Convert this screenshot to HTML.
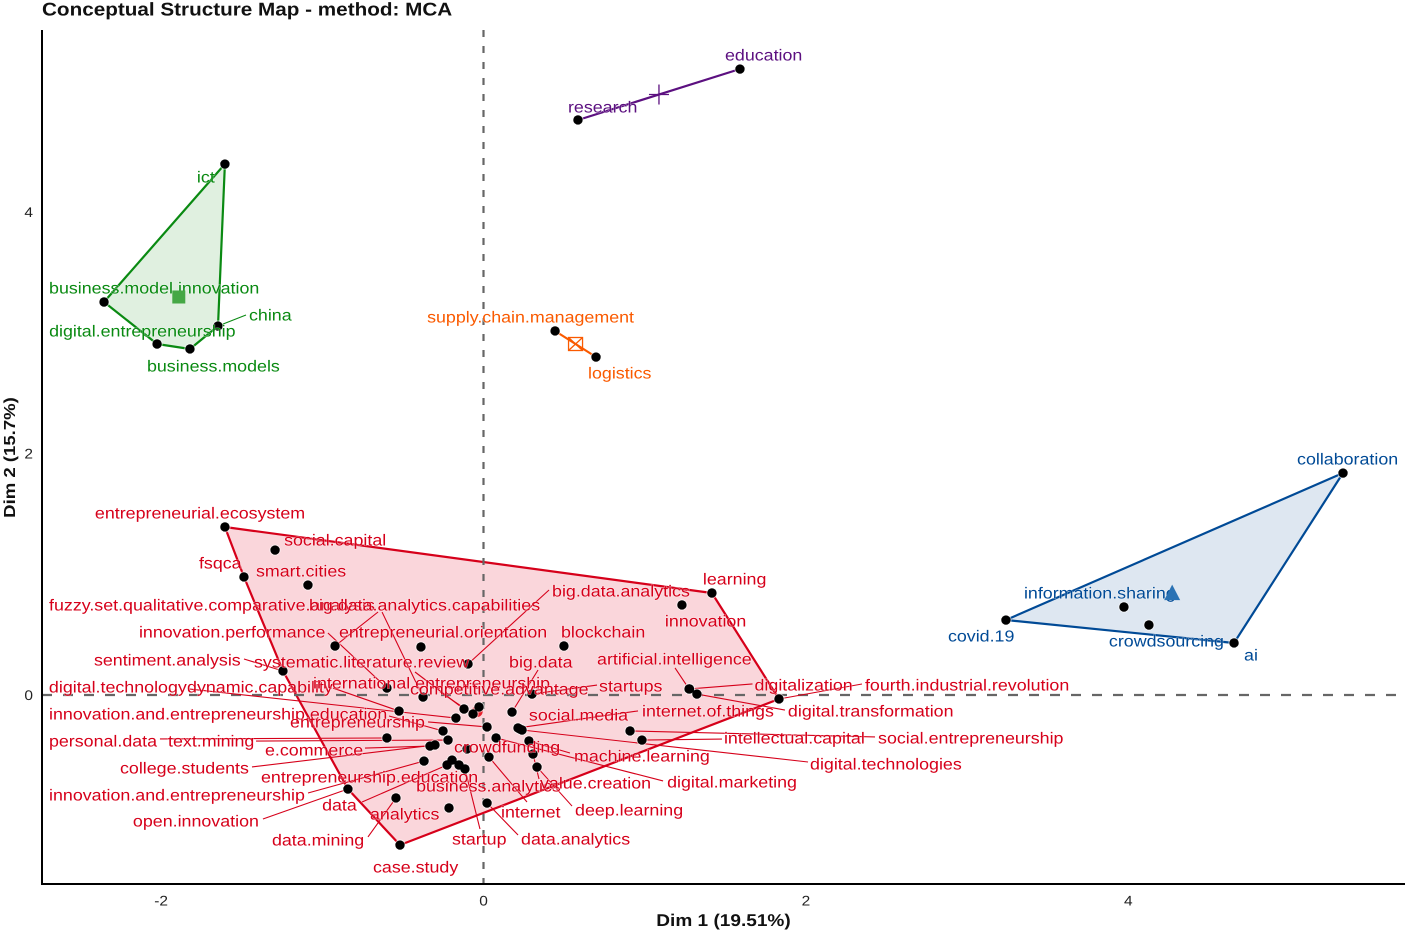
<!DOCTYPE html>
<html lang="en">
<head>
<meta charset="utf-8">
<title>Conceptual Structure Map - method: MCA</title>
<style>
html,body{margin:0;padding:0;background:#fff;}
svg{display:block;}
text{font-family:"Liberation Sans",Arial,sans-serif;text-rendering:geometricPrecision;}
</style>
</head>
<body>
<svg id="chart" xmlns="http://www.w3.org/2000/svg" width="1406" height="931" viewBox="0 0 1406 931">
  <rect x="0" y="0" width="1406" height="931" fill="#fff"/>
</svg>
<script>
// ---- chart data ----
const terms = ["entrepreneurial.ecosystem","social.capital","fsqca","smart.cities","fuzzy.set.qualitative.comparative.analysis","big.data.analytics.capabilities","innovation.performance","entrepreneurial.orientation","blockchain","big.data.analytics","learning","innovation","artificial.intelligence","big.data","sentiment.analysis","systematic.literature.review","digital.technology","dynamic.capability","international.entrepreneurship","competitive.advantage","startups","innovation.and.entrepreneurship.education","entrepreneurship","personal.data","text.mining","e.commerce","college.students","entrepreneurship.education","innovation.and.entrepreneurship","open.innovation","data","analytics","data.mining","case.study","business.analytics","startup","data.analytics","internet","value.creation","deep.learning","digital.marketing","machine.learning","digital.technologies","social.media","internet.of.things","intellectual.capital","social.entrepreneurship","digital.transformation","digitalization","fourth.industrial.revolution","crowdfunding","ict","business.model.innovation","digital.entrepreneurship","business.models","china","collaboration","covid.19","ai","information.sharing","crowdsourcing","education","research","supply.chain.management","logistics"];
const dim1 = [-1.604,-1.293,-1.486,-1.089,-0.921,-0.375,-0.599,-0.388,0.499,-0.096,1.417,1.231,1.275,0.177,-1.244,-0.121,-0.171,-0.524,-0.065,-0.028,0.301,-0.251,0.022,-0.599,-0.220,-0.332,-0.301,-0.152,-0.369,-0.841,-0.226,-0.214,-0.543,-0.518,-0.195,-0.115,0.022,0.034,0.307,0.332,0.078,0.282,0.239,0.226,0.214,0.983,0.909,1.324,1.278,1.833,-0.102,-1.604,-2.354,-2.025,-1.821,-1.647,5.332,3.241,4.656,3.973,4.128,1.591,0.586,0.444,0.698];
const dim2 = [1.392,1.201,0.978,0.911,0.406,-0.017,0.058,0.398,0.406,0.257,0.845,0.746,0.050,-0.141,0.199,-0.116,-0.191,-0.133,-0.157,-0.099,0.008,-0.298,-0.265,-0.356,-0.373,-0.423,-0.414,-0.580,-0.547,-0.779,-0.580,-0.936,-0.853,-1.243,-0.539,-0.613,-0.895,-0.514,-0.489,-0.597,-0.356,-0.381,-0.290,-0.282,-0.273,-0.373,-0.298,0.008,0.050,-0.033,-0.447,4.399,3.256,2.908,2.867,3.057,1.839,0.621,0.431,0.729,0.580,5.186,4.764,3.016,2.800];
const clusterOf = [0,0,0,0,0,0,0,0,0,0,0,0,0,0,0,0,0,0,0,0,0,0,0,0,0,0,0,0,0,0,0,0,0,0,0,0,0,0,0,0,0,0,0,0,0,0,0,0,0,0,0,1,1,1,1,1,2,2,2,2,2,3,3,4,4];
const clusterIds = ["red","green","blue","purple","orange"];
const xTickValues = [-2,0,2,4];
const yTickValues = [0,2,4];
const xAxisTitle = "Dim 1 (19.51%)";
const yAxisTitle = "Dim 2 (15.7%)";
const chartTitle = "Conceptual Structure Map - method: MCA";

// ---- presentation ----
const clusterStroke = {red:"#d6001a",green:"#0a8a12",blue:"#004a96",purple:"#5c1080",orange:"#fa5a00"};
const clusterFill = {red:"#fad6db",green:"#e0f0e0",blue:"#dee7f1",purple:"none",orange:"none"};
const clusterText = {red:"#d6001a",green:"#0a8a12",blue:"#004a96",purple:"#5c1080",orange:"#fa5a00"};
// repelled label placement, relative to each point: text-left, text-centre, then optional leader end
const labelPlacement = {
 "entrepreneurial.ecosystem":[-130,-14],"social.capital":[9,-10],"fsqca":[-45,-14],"smart.cities":[-52,-14],
 "fuzzy.set.qualitative.comparative.analysis":[-286,-41,43,-34],"big.data.analytics.capabilities":[-114,-92,-41,-85],
 "innovation.performance":[-248,-56,-59,-55],"entrepreneurial.orientation":[-82,-15],"blockchain":[-3,-14],
 "big.data.analytics":[84,-73,81,-74],"learning":[-9,-14],"innovation":[-17,16],"artificial.intelligence":[-92,-30,-14,-21],
 "big.data":[-3,-50,26,-42],"sentiment.analysis":[-189,-11,-39,-12],"systematic.literature.review":[-210,-47,-49,-37],
 "digital.technology":[-407,-31,-266,-29],"dynamic.capability":[-212,-24,-66,-23],"international.entrepreneurship":[-160,-31,-33,-22],
 "competitive.advantage":[-69,-18],"startups":[67,-8,65,-9],"innovation.and.entrepreneurship.education":[-394,-17,-54,-15],
 "entrepreneurship":[-197,-5,-59,-5],"personal.data":[-338,3,-227,1],"text.mining":[-280,1,-192,1],"e.commerce":[-165,4,-65,2],
 "college.students":[-315,23,-183,22],"entrepreneurship.education":[-198,12],"innovation.and.entrepreneurship":[-375,34,-116,32],
 "open.innovation":[-215,32,-85,30],"data":[-125,40,-85,37],"analytics":[-79,6],"data.mining":[-124,42,-28,39],"case.study":[-27,22],
 "business.analytics":[-36,26],"startup":[-13,70,15,60],"data.analytics":[34,36,31,32],"internet":[12,55,38,45],
 "value.creation":[7,29,6,25],"deep.learning":[38,43,35,39],"digital.marketing":[171,44,167,43],"machine.learning":[45,15,41,12],
 "digital.technologies":[288,34,286,32],"social.media":[9,-14],"internet.of.things":[124,-17,120,-17],
 "intellectual.capital":[82,-2,80,-1],"social.entrepreneurship":[248,7,245,6],"digital.transformation":[91,17,88,16],
 "digitalization":[65,-4,63,-5],"fourth.industrial.revolution":[86,-14,83,-15],"crowdfunding":[-13,-2],
 "ict":[-28,13],"business.model.innovation":[-55,-14],"digital.entrepreneurship":[-108,-13],"business.models":[-43,17],"china":[31,-11,28,-11],
 "collaboration":[-46,-14],"covid.19":[-58,16],"ai":[10,12],"information.sharing":[-100,-14],"crowdsourcing":[-40,16],
 "education":[-15,-14],"research":[-10,-13],"supply.chain.management":[-128,-14],"logistics":[-8,16]
};

// ---- axis functions ----
const xScale = v => 483.5 + 161.2 * v;
const yScale = v => 695 - 120.7 * v;
const plot = {left:42, right:1405, top:30, bottom:884};

const NS = "http://www.w3.org/2000/svg";
const svg = document.getElementById("chart");
function make(tag, attrs, parent){
  const el = document.createElementNS(NS, tag);
  for (const k in attrs) el.setAttribute(k, attrs[k]);
  (parent || svg).appendChild(el);
  return el;
}
function stretchedText(str, x, yCentre, size, stretch, fill, weight, anchor, parent){
  const el = make("text", {
    transform:`translate(${x},${yCentre + size*0.35}) scale(${stretch},1)`,
    "font-size":size, fill:fill, "font-weight":weight||"normal", "text-anchor":anchor||"start"
  }, parent);
  el.textContent = str;
  return el;
}
function hull(pts){
  const p = pts.slice().sort((a,b)=>a[0]-b[0]||a[1]-b[1]);
  if (p.length < 3) return p;
  const cross=(o,a,b)=>(a[0]-o[0])*(b[1]-o[1])-(a[1]-o[1])*(b[0]-o[0]);
  const lo=[],up=[];
  for (const q of p){ while(lo.length>1&&cross(lo[lo.length-2],lo[lo.length-1],q)<=0) lo.pop(); lo.push(q); }
  for (const q of p.slice().reverse()){ while(up.length>1&&cross(up[up.length-2],up[up.length-1],q)<=0) up.pop(); up.push(q); }
  return lo.slice(0,-1).concat(up.slice(0,-1));
}
function drawCentroid(id, c){
  let sx=0, sy=0, n=0;
  terms.forEach((t,i)=>{ if (clusterOf[i]===c){ sx+=xScale(dim1[i]); sy+=yScale(dim2[i]); n++; } });
  const cx=sx/n, cy=sy/n, col=clusterStroke[id];
  const g = make("g", {});
  
  
  if (id==="red") make("circle",{cx:cx,cy:cy,r:5.5,fill:"#e8202c"},g);
  if (id==="green") make("rect",{x:cx-6.5,y:cy-6.5,width:13,height:13,fill:"#45a845"},g);
  if (id==="blue") make("polygon",{points:`${cx+1},${cy-9} ${cx+9},${cy+6.5} ${cx-7},${cy+6.5}`,fill:"#2a72b4"},g);
  if (id==="purple"){
    make("line",{x1:cx-10,x2:cx+10,y1:cy,y2:cy,stroke:col,"stroke-width":1.3},g);
    make("line",{x1:cx,x2:cx,y1:cy-10,y2:cy+10,stroke:col,"stroke-width":1.3},g);
  }
  if (id==="orange"){
    make("rect",{x:cx-7,y:cy-6.5,width:14,height:13,fill:"none",stroke:col,"stroke-width":1.3},g);
    make("line",{x1:cx-7,x2:cx+7,y1:cy-6.5,y2:cy+6.5,stroke:col,"stroke-width":1.3},g);
    make("line",{x1:cx+7,x2:cx-7,y1:cy-6.5,y2:cy+6.5,stroke:col,"stroke-width":1.3},g);
  }
}

// ---- hulls ----
clusterIds.forEach((id, c) => {
  const pts = [];
  terms.forEach((t,i)=>{ if (clusterOf[i]===c) pts.push([xScale(dim1[i]), yScale(dim2[i])]); });
  const h = hull(pts);
  const poly = make("polygon", {
    points:h.map(q=>q[0].toFixed(1)+","+q[1].toFixed(1)).join(" "),
    fill:clusterFill[id], stroke:clusterStroke[id], "stroke-width":2.2, "stroke-linejoin":"round"
  });
  
  
});

// ---- reference lines ----
const vRef = make("line", {x1:xScale(0),x2:xScale(0),y1:plot.top,y2:plot.bottom,stroke:"#666","stroke-width":2.2,"stroke-dasharray":"7 9"});


const hRef = make("line", {x1:plot.left,x2:plot.right,y1:yScale(0),y2:yScale(0),stroke:"#666","stroke-width":2.2,"stroke-dasharray":"10 11"});



// the red centroid sits beneath the points
drawCentroid("red", 0);

// ---- leaders, points, labels ----
terms.forEach((t,i)=>{
  const p = labelPlacement[t];
  if (p.length>2){
    const px=xScale(dim1[i]), py=yScale(dim2[i]);
    const leader = make("line",{x1:px,y1:py,x2:px+p[2],y2:py+p[3],stroke:clusterStroke[clusterIds[clusterOf[i]]],"stroke-width":1.1});
    
    
  }
});
terms.forEach((t,i)=>{
  const halo = make("circle",{cx:xScale(dim1[i]),cy:yScale(dim2[i]),r:5.6,fill:"#fff","fill-opacity":0.6});
  
  
});
terms.forEach((t,i)=>{
  const dot = make("circle",{cx:xScale(dim1[i]),cy:yScale(dim2[i]),r:4.7,fill:"#000"});
  
  
});
terms.forEach((t,i)=>{
  const p = labelPlacement[t];
  const lab = stretchedText(t, xScale(dim1[i])+p[0], yScale(dim2[i])+p[1], 16, 1.115, clusterText[clusterIds[clusterOf[i]]]);
  lab.setAttribute('paint-order', 'stroke');
  lab.setAttribute('stroke', '#fff');
  lab.setAttribute('stroke-opacity', '0.45');
  lab.setAttribute('stroke-width', '1.1');
  
  
});

// the remaining centroid markers sit above the labels
drawCentroid("green", 1);
drawCentroid("blue", 2);
drawCentroid("purple", 3);
drawCentroid("orange", 4);

// ---- axes ----
const yAxisLine = make("line",{x1:plot.left,x2:plot.left,y1:plot.top,y2:plot.bottom+1,stroke:"#000","stroke-width":2});


const xAxisLine = make("line",{x1:plot.left-1,x2:plot.right,y1:plot.bottom,y2:plot.bottom,stroke:"#000","stroke-width":2});



xTickValues.forEach(v=>{
  const tick = stretchedText(String(v), xScale(v), 900.5, 14, 1.105, "#222", "normal", "middle");
  
  
});
yTickValues.forEach(v=>{
  const tick = stretchedText(String(v), 33, yScale(v), 14, 1.105, "#222", "normal", "end");
  
  
});

const xTitle = stretchedText(xAxisTitle, 723.5, 920, 17, 1.12, "#111", "bold", "middle");



const yTitle = make("text",{transform:"translate(15,457.5) rotate(-90) scale(1.16,1)","font-size":16,"font-weight":"bold",fill:"#111","text-anchor":"middle"});
yTitle.textContent = yAxisTitle;



const title = stretchedText(chartTitle, 42, 9, 18.5, 1.118, "#111", "bold");


</script>
</body>
</html>
